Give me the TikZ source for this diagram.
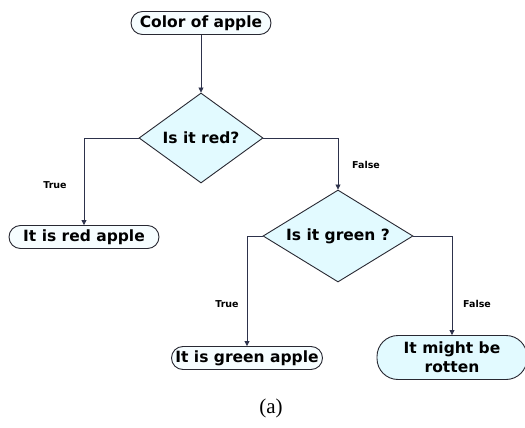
\documentclass[tikz,border=0pt]{standalone}
\usepackage{fontspec}
\setmainfont{Liberation Serif}
\newfontfamily\boxfont{DejaVu Sans}
\usetikzlibrary{shapes.geometric,arrows.meta}
\definecolor{boxfill}{RGB}{226,250,255}
\definecolor{termfill}{RGB}{246,253,255}
\definecolor{edge}{RGB}{40,40,50}
\definecolor{flow}{RGB}{45,50,75}
\newcommand{\slimtext}[1]{\makebox[0pt]{#1}}
\begin{document}
\begin{tikzpicture}[x=1pt,y=-1pt,
  term/.style={draw=edge, line width=0.9pt, fill=termfill, rounded corners=11.5pt,
    minimum height=23pt, inner xsep=3pt, inner ysep=0pt,
    font=\boxfont\bfseries\fontsize{15.5}{17}\selectfont},
  bigterm/.style={term, fill=boxfill, rounded corners=21pt, minimum height=44pt,
    align=center, font=\boxfont\bfseries\fontsize{15.5}{19}\selectfont},
  decision/.style={draw=edge, line width=0.9pt, fill=boxfill, diamond, inner sep=0pt,
    font=\boxfont\bfseries\fontsize{15.5}{17}\selectfont},
  arr/.style={draw=flow, line width=0.8pt, -{Triangle[length=5pt,width=5pt]}},
  lbl/.style={font=\boxfont\bfseries\fontsize{9.5}{10}\selectfont, text=black}
]
\useasboundingbox (0,0) rectangle (525,428);

% nodes
\node[term, minimum width=140pt] (start) at (201,23) {Color of apple};
\node[decision, minimum width=124pt, minimum height=90pt] (red) at (201,138) {\slimtext{Is it red?}};
\node[term, minimum width=150pt] (redapple) at (84,237) {It is red apple};
\node[decision, minimum width=150pt, minimum height=92pt] (green) at (338,236) {\slimtext{Is it green ?}};
\node[term, minimum width=151pt] (greenapple) at (247,358) {It is green apple};
\node[bigterm, minimum width=150pt] (rotten) at (452,357.5) {It might be\\rotten};

% connectors
\draw[arr] (start) -- (red);
\draw[arr] (red.west) -| (redapple.north);
\draw[arr] (red.east) -| (green.north);
\draw[arr] (green.west) -| (greenapple.north);
\draw[arr] (green.east) -| (rotten.north);

% branch labels
\node[lbl] (t1) at (55,185) {True};
\node[lbl] (f1) at (366,165) {False};
\node[lbl] (t2) at (227,304) {True};
\node[lbl] (f2) at (477,304) {False};

% caption
\node[font=\fontsize{21}{24}\selectfont] (cap) at (271,408) {(a)};
\end{tikzpicture}
\end{document}
